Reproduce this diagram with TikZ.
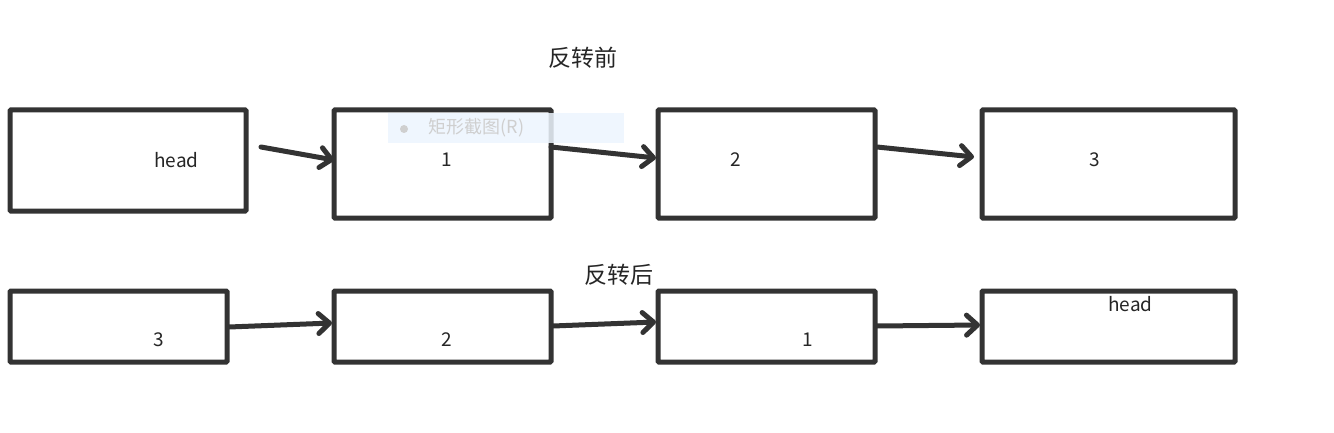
\documentclass[tikz,border=0pt]{standalone}
\usepackage{fontspec}
\setmainfont{Noto Sans CJK SC}
\usetikzlibrary{arrows.meta}
\definecolor{ink}{HTML}{333333}
\definecolor{overlayblue}{HTML}{EDF5FE}
\definecolor{overlaytext}{HTML}{CFCFCF}
\begin{document}
\begin{tikzpicture}[x=1pt,y=-1pt,
  listbox/.style={draw=ink,line width=5pt,rounded corners=1pt,inner sep=0pt,outer sep=0pt,minimum width=217pt},
  tallbox/.style={listbox,minimum height=108pt},
  lowbox/.style={listbox,minimum height=71pt},
  lbl/.style={font=\fontsize{19}{19}\selectfont,text=black!85,inner sep=0pt},
  title/.style={font=\fontsize{23}{23}\selectfont,text=black!85,inner sep=0pt},
  link/.style={draw=ink,line width=5pt,line cap=round,-{Straight Barb[length=11pt,width=20pt,line cap=round,line join=round]}}]
\useasboundingbox (0,0) rectangle (1334,433);
\fill[white] (0,0) rectangle (1334,433);
% top row
\node[listbox,minimum width=236pt,minimum height=101pt] (h1) at (128,160.5) {};
\node[tallbox] (t1) at (442.5,164) {};
\node[tallbox] (t2) at (766.5,164) {};
\node[tallbox,minimum width=253pt] (t3) at (1108.5,164) {};
\node[title] (top) at (583,58) {反转前};
\node[lbl] (lh1) at (176.5,160) {head};
\node[lbl] (l1) at (447,160) {1};
\node[lbl] (l2) at (736,160) {2};
\node[lbl] (l3) at (1095,160) {3};
\coordinate (s1) at (261,147);
\coordinate (s2) at (551,147);
\coordinate (s3) at (877,147);
\draw[link] (s1) -- ([yshift=4pt]t1.west);
\draw[link] (s2) -- ([yshift=6pt,xshift=-2pt]t2.west);
\draw[link] (s3) -- ([yshift=7pt,xshift=-8pt]t3.west);
% bottom row
\node[lowbox] (b3) at (118.5,326.5) {};
\node[lowbox] (b2) at (442.5,326.5) {};
\node[lowbox] (b1) at (766.5,326.5) {};
\node[lowbox,minimum width=253pt] (bh) at (1108.5,326.5) {};
\node[title] (bottom) at (619,275) {反转后};
\node[lbl] (m3) at (159,340) {3};
\node[lbl] (m2) at (447,340) {2};
\node[lbl] (m1) at (808,340) {1};
\node[lbl] (mh) at (1130.5,304) {head};
\coordinate (r1) at (229,327);
\coordinate (r2) at (553,326);
\coordinate (r3) at (877,326);
\draw[link] (r1) -- ([yshift=3.5pt,xshift=-2pt]b2.west);
\draw[link] (r2) -- ([yshift=4.5pt,xshift=-2pt]b1.west);
\draw[link] (r3) -- ([yshift=1.5pt,xshift=-2pt]bh.west);
% screenshot overlay
\fill[overlayblue,opacity=0.85] (388,113) rectangle (624,143);
\fill[overlaytext] (404,129) circle (4);
\node[font=\fontsize{18}{18}\selectfont,text=overlaytext,inner sep=0pt] (ov) at (476.5,128) {矩形截图(R)};
\end{tikzpicture}
\end{document}
